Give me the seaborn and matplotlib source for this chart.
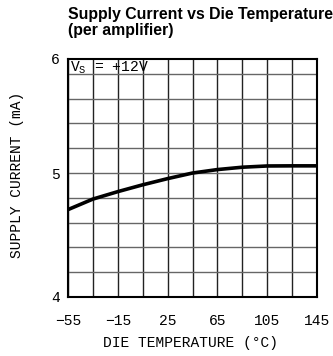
import numpy as np
import pandas as pd
import matplotlib
matplotlib.use("Agg")
import matplotlib.pyplot as plt
import seaborn as sns

# values
temp_c = [-55, -35, -15, 5, 25, 45, 65, 85, 105, 125, 145]
current_ma = [4.705, 4.79, 4.85, 4.905, 4.955, 5.0, 5.028, 5.047, 5.057, 5.058, 5.058]
x_ticks = [-55, -15, 25, 65, 105, 145]
y_tick_labels = ["4", "5", "6"]
y_top = 5.92  # top of the (cropped) grid carries the "6" label

df = pd.DataFrame({"temp": temp_c, "current": current_ma})

sns.set_theme(style="white")
plt.rcParams["font.family"] = ["Liberation Mono", "DejaVu Sans"]
plt.rcParams["text.color"] = "black"
plt.rcParams["axes.labelcolor"] = "black"
plt.rcParams["xtick.color"] = "black"
plt.rcParams["ytick.color"] = "black"

fig = plt.figure(figsize=(3.33, 3.56), dpi=100)
ax = fig.add_axes([68 / 333, 1 - 297 / 356, 249 / 333, 238 / 356])

# grid: 20 degC columns, 0.2 mA rows
for x in np.arange(-55, 146, 20):
    ax.axvline(x, color="#222222", lw=1.0, zorder=1)
for y in np.arange(4, 5.81, 0.2):
    ax.axhline(y, color="#666666", lw=1.0, zorder=1)

sns.lineplot(data=df, x="temp", y="current", ax=ax, color="black", lw=2.6, zorder=3)

ax.set_xlim(-55, 145)
ax.set_ylim(4, y_top)
ax.set_xticks(x_ticks)
ax.set_yticks([4, 5, y_top])
ax.set_xticklabels([f"\u2212{abs(v)}" if v < 0 else str(v) for v in x_ticks], fontsize=10.5)
ax.set_yticklabels(y_tick_labels, fontsize=10.5)
ax.tick_params(axis="x", length=0, pad=12)
ax.tick_params(axis="y", length=0, pad=6)
for s in ax.spines.values():
    s.set_color("black")
    s.set_linewidth(1.5)

ax.set_xlabel("DIE TEMPERATURE (\u00b0C)", fontsize=10.5)
ax.xaxis.set_label_coords(0.49, -0.165)
ax.set_ylabel("SUPPLY CURRENT (mA)", fontsize=10.5)
ax.yaxis.set_label_coords(-0.175, 0.515)

ax.text(-53, 5.85, "V$_\\mathregular{S}$ = +12V", fontsize=10.5, va="center", ha="left", zorder=4)

fig.text(68 / 333, 1 - 15 / 356, "Supply Current vs Die Temperature", fontsize=11.4,
         fontweight="bold", family="Liberation Sans", ha="left", va="center")
fig.text(68 / 333, 1 - 31 / 356, "(per amplifier)", fontsize=11.4,
         fontweight="bold", family="Liberation Sans", ha="left", va="center")

fig.savefig("out.png", dpi=100)
